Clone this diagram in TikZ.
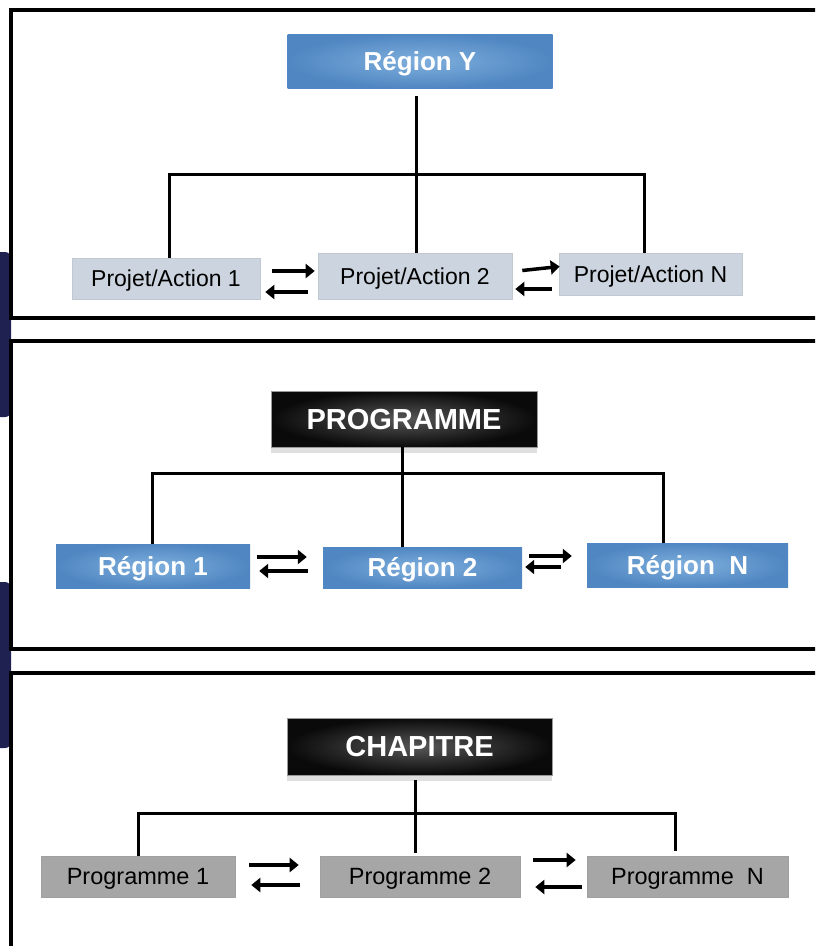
\documentclass[tikz,border=0pt]{standalone}
\usepackage{fontspec}
\setmainfont{Liberation Sans}
\usetikzlibrary{arrows.meta,shadows,calc}

\definecolor{regblue}{HTML}{5087C2}
\definecolor{regbluelite}{HTML}{7FAFDD}
\definecolor{projgray}{HTML}{CCD5DF}
\definecolor{proggray}{HTML}{A6A6A6}
\definecolor{tabnavy}{HTML}{1F2150}

\tikzset{
  region/.style={inner color=regbluelite, outer color=regblue, text=white,
    font=\fontsize{26}{30}\selectfont\bfseries, inner sep=0pt,
    text height=18.7pt, text depth=0pt},
  projet/.style={fill=projgray, draw=projgray!85!gray, line width=.6pt,
    font=\fontsize{23}{28}\selectfont, inner sep=0pt,
    text height=16.5pt, text depth=0pt},
  progbox/.style={fill=proggray, draw=proggray!85!gray, line width=.6pt,
    font=\fontsize{23.5}{28}\selectfont, inner sep=0pt,
    text height=16.8pt, text depth=0pt},
  chef/.style={inner color=black!66, outer color=black!96, draw=black!40, line width=.8pt,
    text=white, font=\fontsize{29}{34}\selectfont\bfseries, inner sep=0pt,
    text height=20.8pt, text depth=0pt,
    drop shadow={shadow xshift=0pt, shadow yshift=-6pt, opacity=.25}},
  flow/.style={line width=3.5pt, -{Triangle[length=9pt,width=14pt]}},
  tree/.style={line width=3pt},
  panel/.style={line width=3.5pt}
}

\begin{document}
\begin{tikzpicture}[x=1pt,y=-1pt]
  \useasboundingbox (0,0) rectangle (815,946);
  \clip (0,0) rectangle (815,946);

  % side tabs
  \fill[tabnavy, rounded corners=6pt] (-10,252) rectangle (11,417);
  \fill[tabnavy, rounded corners=6pt] (-10,582) rectangle (11,748);

  % panels
  \draw[panel, fill=white] (900,318) -- (11,318) -- (11,10) -- (900,10);
  \draw[panel, fill=white] (900,649) -- (11,649) -- (11,341) -- (900,341);
  \draw[panel, fill=white] (11,960) -- (11,673) -- (900,673);

  % --- panel 1 : region
  \node[region, minimum width=265pt, minimum height=54pt] (regY) at (420,61) {Région Y};
  \node[projet, minimum width=188pt, minimum height=41pt] (pa1) at (166,278.5) {Projet/Action 1};
  \node[projet, minimum width=194pt, minimum height=46pt] (pa2) at (415,276) {Projet/Action 2};
  \node[projet, minimum width=183pt, minimum height=42pt] (paN) at (650.5,274) {Projet/Action N};

  \coordinate (forkY) at (416,174);
  \draw[tree, shorten <=8pt] (regY.south -| forkY) -- (forkY |- pa2.north);
  \draw[tree] ([xshift=3pt]pa1.north) |- (forkY) -| ([xshift=-6pt]paN.north);

  \draw[flow] ($(pa1.east)+(12,-7.5)$) -- ($(pa2.west)+(-3,-5)$);
  \draw[flow] ($(pa2.west)+(-10,16)$) -- ($(pa1.east)+(5,13.5)$);
  \draw[flow] ($(pa2.east)+(10,-5.5)$) -- ($(paN.west)+(1,-7.5)$);
  \draw[flow] ($(paN.west)+(-7,15)$) -- ($(pa2.east)+(3,13)$);

  % --- panel 2 : programme
  \node[chef, minimum width=266pt, minimum height=56pt] (prog) at (404,419) {PROGRAMME};
  \node[region, minimum width=194pt, minimum height=44pt] (r1) at (153,566) {Région 1};
  \node[region, minimum width=199pt, minimum height=41pt] (r2) at (422.5,567.5) {Région 2};
  \node[region, minimum width=201pt, minimum height=44pt] (rN) at (687.5,565) {Région~~N};

  \coordinate (forkP) at (402,473);
  \draw[tree] (prog.south -| forkP) -- (forkP |- r2.north);
  \draw[tree] ([xshift=-1pt]r1.north) |- (forkP) -| ([xshift=-24.5pt]rN.north);

  \draw[flow] ($(r1.east)+(7,-9)$) -- ($(r2.west)+(-16,-10.5)$);
  \draw[flow] ($(r2.west)+(-15,3.5)$) -- ($(r1.east)+(9,5)$);
  \draw[flow] ($(r2.east)+(7,-11.5)$) -- ($(rN.west)+(-15,-9)$);
  \draw[flow] ($(rN.west)+(-26,2)$) -- ($(r2.east)+(3,-0.5)$);

  % --- panel 3 : chapitre
  \node[chef, minimum width=265pt, minimum height=57pt] (chap) at (419.5,746.5) {CHAPITRE};
  \node[progbox, minimum width=194pt, minimum height=41pt] (p1) at (138,876.5) {Programme 1};
  \node[progbox, minimum width=200pt, minimum height=41pt] (p2) at (420,876.5) {Programme 2};
  \node[progbox, minimum width=201pt, minimum height=41pt] (pN) at (687.5,876.5) {Programme~~N};

  \coordinate (forkC) at (415,813);
  \draw[tree, shorten <=5pt, shorten >=3pt] (chap.south -| forkC) -- (forkC |- p2.north);
  \draw[tree, shorten >=5pt] (p1.north) |- (forkC) -| ([xshift=-12.5pt]pN.north);

  \draw[flow] ($(p1.east)+(14,-11.5)$) -- ($(p2.west)+(-21,-11.5)$);
  \draw[flow] ($(p2.west)+(-20,8.5)$) -- ($(p1.east)+(16,8.5)$);
  \draw[flow] ($(p2.east)+(13,-16.5)$) -- ($(pN.west)+(-11,-16.5)$);
  \draw[flow] ($(pN.west)+(-5,10.5)$) -- ($(p2.east)+(15,10.5)$);
\end{tikzpicture}
\end{document}
